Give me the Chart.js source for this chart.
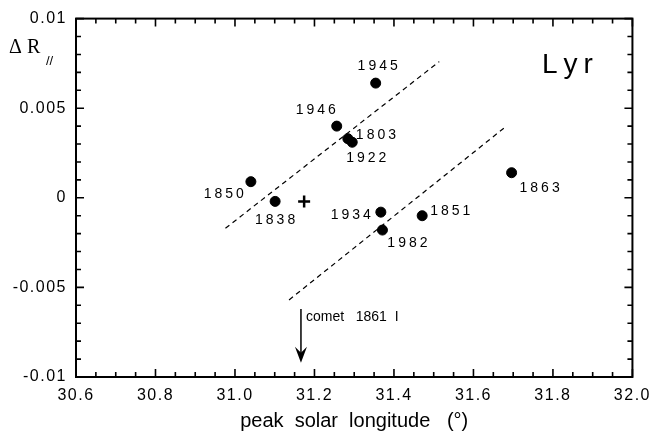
<!DOCTYPE html>
<html>
<head>
<meta charset="utf-8">
<script src="https://cdn.jsdelivr.net/npm/chart.js@4/dist/chart.umd.min.js"></script>
<style>
  html, body { margin: 0; padding: 0; background: #fff; }
  #wrap { width: 657px; height: 447px; }
</style>
</head>
<body>
<div id="wrap"><canvas id="c" width="657" height="447"></canvas></div>
<script>
// ---- data ----
const years     = ['1945', '1946', '1803', '1922', '1850', '1838', '1934', '1982', '1851', '1863'];
const longitude = [31.354, 31.256, 31.284, 31.295, 31.040, 31.101, 31.367, 31.371, 31.471, 31.696];
const deltaR    = [0.0064, 0.0040, 0.0033, 0.0031, 0.0009, -0.0002, -0.0008, -0.0018, -0.0010, 0.0014];
const meanLon   = [31.174];
const meanDR    = [-0.0002];
const upperLineLon = [30.976, 31.514];
const upperLineDR  = [-0.0017, 0.0076];
const lowerLineLon = [31.136, 31.683];
const lowerLineDR  = [-0.0057, 0.0040];
const cometLon  = 31.166;
const cometDR   = [-0.0062, -0.0092];
const cometText = 'comet   1861  I';
const showerName = 'Lyr';
const xTitle = 'peak  solar  longitude   (°)';

// ---- label placement (styles, pixels) ----
const labelPlace = {
  '1945': [2, -17, 'center'], '1946': [-21, -16, 'center'], '1803': [8, -4, 'left'],
  '1922': [14, 16, 'center'], '1850': [-7, 12, 'right'], '1838': [0, 19, 'center'],
  '1934': [-10, 3, 'right'], '1982': [25, 13, 'center'], '1851': [8, -5, 'left'],
  '1863': [28, 15, 'center']
};

function spaced(ctx, text, x, y, align, sp) {
  const chars = Array.from(text);
  const ws = chars.map(c => ctx.measureText(c).width);
  const total = ws.reduce((a, b) => a + b, 0) + sp * (chars.length - 1);
  let sx = align === 'center' ? x - total / 2 : align === 'right' ? x - total : x;
  ctx.textAlign = 'left';
  chars.forEach((c, i) => { ctx.fillText(c, sx, y); sx += ws[i] + sp; });
}

const pts = longitude.map((x, i) => ({ x, y: deltaR[i] }));
const meanPts = meanLon.map((x, i) => ({ x, y: meanDR[i] }));
const upper = upperLineLon.map((x, i) => ({ x, y: upperLineDR[i] }));
const lower = lowerLineLon.map((x, i) => ({ x, y: lowerLineDR[i] }));

const decor = {
  id: 'decor',
  beforeDraw(chart) {
    const ctx = chart.ctx;
    ctx.save();
    ctx.fillStyle = '#fff';
    ctx.fillRect(0, 0, chart.width, chart.height);
    ctx.restore();
    try { ctx.letterSpacing = '1.5px'; } catch (e) {}
  },
  afterDraw(chart) {
    const ctx = chart.ctx;
    const xs = chart.scales.x, ys = chart.scales.y;
    const a = chart.chartArea;
    ctx.save();
    try { ctx.letterSpacing = '0px'; } catch (e) {}
    ctx.strokeStyle = '#000';
    ctx.lineWidth = 1.6;
    // inward ticks on all four sides
    xs.ticks.forEach(t => {
      const px = xs.getPixelForValue(t.value);
      const major = Math.round(t.value * 100) % 20 === 0;
      const L = major ? 8 : 5;
      ctx.beginPath();
      ctx.moveTo(px, a.bottom); ctx.lineTo(px, a.bottom - L);
      ctx.moveTo(px, a.top); ctx.lineTo(px, a.top + L);
      ctx.stroke();
    });
    ys.ticks.forEach(t => {
      const py = ys.getPixelForValue(t.value);
      const major = Math.round(t.value * 1000) % 5 === 0;
      const L = major ? 8 : 5;
      ctx.beginPath();
      ctx.moveTo(a.left, py); ctx.lineTo(a.left + L, py);
      ctx.moveTo(a.right, py); ctx.lineTo(a.right - L, py);
      ctx.stroke();
    });
    ctx.lineWidth = 2;
    ctx.strokeRect(a.left, a.top, a.right - a.left, a.bottom - a.top);

    // year labels
    ctx.fillStyle = '#000';
    ctx.font = '14px "Liberation Sans", Arial, sans-serif';
    ctx.textBaseline = 'middle';
    years.forEach((yr, i) => {
      const p = labelPlace[yr];
      const px = xs.getPixelForValue(longitude[i]);
      const py = ys.getPixelForValue(deltaR[i]);
      spaced(ctx, yr, px + p[0], py + p[1], p[2], 3);
    });

    // comet arrow
    const ax = xs.getPixelForValue(cometLon);
    const ay0 = ys.getPixelForValue(cometDR[0]);
    const ay1 = ys.getPixelForValue(cometDR[1]);
    ctx.lineWidth = 1.5;
    ctx.beginPath();
    ctx.moveTo(ax, ay0); ctx.lineTo(ax, ay1 - 4);
    ctx.stroke();
    ctx.beginPath();
    ctx.moveTo(ax, ay1);
    ctx.lineTo(ax - 6, ay1 - 16);
    ctx.lineTo(ax, ay1 - 10);
    ctx.lineTo(ax + 6, ay1 - 16);
    ctx.closePath();
    ctx.fill();
    ctx.font = '14px "Liberation Sans", Arial, sans-serif';
    ctx.textAlign = 'left';
    ctx.fillText(cometText, ax + 5, ay0 + 8);

    // shower name
    ctx.font = '28px "Liberation Sans", Arial, sans-serif';
    spaced(ctx, showerName, 542, 65, 'left', 6);

    // x-axis title
    ctx.font = '20px "Liberation Sans", Arial, sans-serif';
    ctx.textAlign = 'center';
    ctx.fillText(xTitle, (a.left + a.right) / 2, 421);

    // y-axis label  ΔR//
    ctx.font = '20px "Liberation Serif", "Times New Roman", serif';
    ctx.textAlign = 'left';
    ctx.fillText('Δ', 9, 48);
    ctx.fillText('R', 27, 48);
    ctx.font = '13px "Liberation Sans", Arial, sans-serif';
    ctx.fillText('//', 46, 61);
    ctx.restore();
  }
};

new Chart(document.getElementById('c'), {
  type: 'scatter',
  data: {
    datasets: [
      { data: pts, backgroundColor: '#000', borderColor: '#000', pointRadius: 5, pointStyle: 'circle' },
      { data: meanPts, backgroundColor: '#000', borderColor: '#000', pointRadius: 6, pointStyle: 'cross', borderWidth: 2.5 },
      { data: upper, showLine: true, pointRadius: 0, borderColor: '#000', borderWidth: 1.2, borderDash: [5, 4], fill: false },
      { data: lower, showLine: true, pointRadius: 0, borderColor: '#000', borderWidth: 1.2, borderDash: [5, 4], fill: false }
    ]
  },
  options: {
    responsive: false,
    animation: false,
    events: [],
    layout: { padding: { left: 0, right: 20, top: 18, bottom: 0 } },
    plugins: { legend: { display: false }, tooltip: { enabled: false } },
    scales: {
      x: {
        type: 'linear', min: 30.6, max: 32.0,
        afterFit: s => { s.height = 70; },
        grid: { display: false, drawTicks: false },
        border: { display: false },
        ticks: {
          stepSize: 0.05, autoSkip: false, maxRotation: 0, padding: 9,
          color: '#000', font: { family: '"Liberation Sans", Arial, sans-serif', size: 16 },
          callback: v => (Math.round(v * 100) % 20 === 0 ? v.toFixed(1) : '')
        }
      },
      y: {
        type: 'linear', min: -0.01, max: 0.01,
        afterFit: s => { s.width = 76; },
        grid: { display: false, drawTicks: false },
        border: { display: false },
        ticks: {
          stepSize: 0.001, autoSkip: false, padding: 9,
          color: '#000', font: { family: '"Liberation Sans", Arial, sans-serif', size: 16 },
          callback: v => {
            const k = Math.round(v * 1000);
            if (k % 5 !== 0) return '';
            if (k === 0) return '0';
            return String(k / 1000);
          }
        }
      }
    }
  },
  plugins: [decor]
});
</script>
</body>
</html>
